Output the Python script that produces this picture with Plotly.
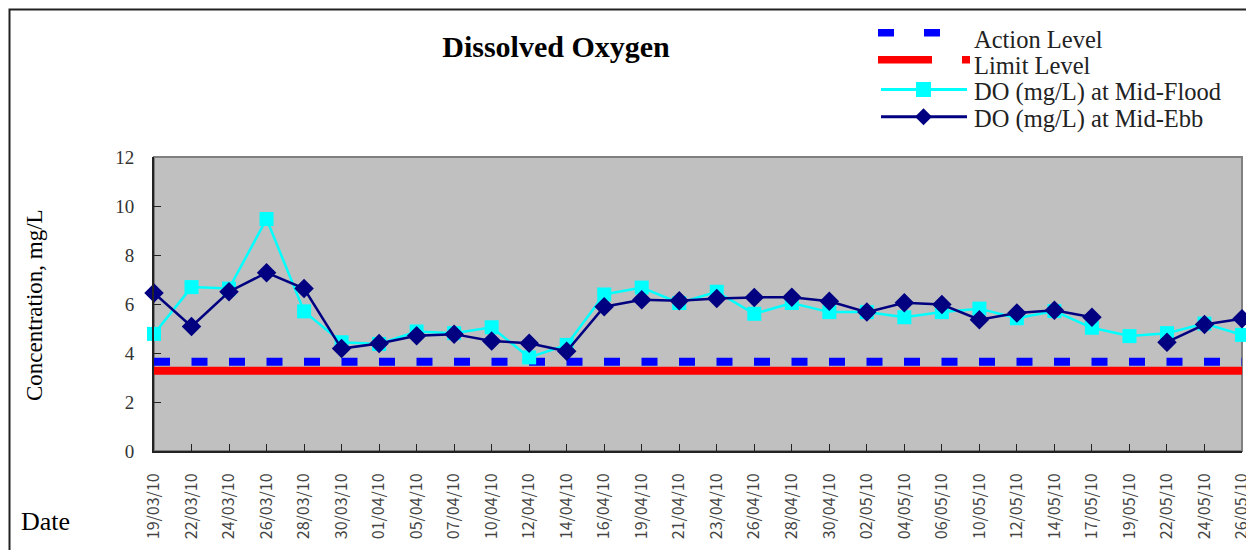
import plotly.graph_objects as go

dates = ["19/03/10", "22/03/10", "24/03/10", "26/03/10", "28/03/10", "30/03/10",
         "01/04/10", "05/04/10", "07/04/10", "10/04/10", "12/04/10", "14/04/10",
         "16/04/10", "19/04/10", "21/04/10", "23/04/10", "26/04/10", "28/04/10",
         "30/04/10", "02/05/10", "04/05/10", "06/05/10", "10/05/10", "12/05/10",
         "14/05/10", "17/05/10", "19/05/10", "22/05/10", "24/05/10", "26/05/10"]

do_flood = [4.78, 6.69, 6.63, 9.47, 5.70, 4.44, 4.37, 4.88, 4.81, 5.05, 3.82, 4.33,
            6.39, 6.67, 6.04, 6.50, 5.60, 6.04, 5.67, 5.67, 5.46, 5.67, 5.81, 5.42,
            5.71, 5.03, 4.69, 4.81, 5.20, 4.74]

do_ebb = [6.45, 5.08, 6.50, 7.28, 6.63, 4.18, 4.39, 4.70, 4.77, 4.49, 4.40, 4.07,
          5.89, 6.17, 6.13, 6.22, 6.27, 6.28, 6.11, 5.67, 6.05, 5.98, 5.36, 5.63,
          5.74, 5.46, None, 4.44, 5.16, 5.40]

action_level = [3.64] * len(dates)
limit_level = [3.28] * len(dates)

y_ticks = [0, 2, 4, 6, 8, 10, 12]

series_names = ["Action Level", "Limit Level", "DO (mg/L) at Mid-Flood", "DO (mg/L) at Mid-Ebb"]

SERIF = "Liberation Serif, Times New Roman, serif"
SANS = "Noto Sans CJK TC, sans-serif"

BLUE, RED, CYAN, NAVY = "#0000FF", "#FF0000", "#00FFFF", "#000080"

fig = go.Figure()
fig.add_trace(go.Scatter(x=dates, y=action_level, mode="lines", name=series_names[0],
                         showlegend=False,
                         line=dict(color=BLUE, width=8, dash="16px,21.5px")))
fig.add_trace(go.Scatter(x=dates, y=limit_level, mode="lines", name=series_names[1],
                         showlegend=False, line=dict(color=RED, width=8)))
fig.add_trace(go.Scatter(x=dates, y=do_flood, mode="lines+markers",
                         name=series_names[2], cliponaxis=False, showlegend=False,
                         line=dict(color=CYAN, width=2.5),
                         marker=dict(symbol="square", size=14, color=CYAN)))
fig.add_trace(go.Scatter(x=dates, y=do_ebb, mode="lines+markers",
                         name=series_names[3], cliponaxis=False, connectgaps=False,
                         showlegend=False,
                         line=dict(color=NAVY, width=2.5),
                         marker=dict(symbol="diamond", size=15, color=NAVY)))

# page is offset by the default 8px body margin
OFF = 8
W, H = 1254 - OFF, 550 - OFF
PL, PR, PT, PB = 154, 1242, 157, 451  # plot area in page pixels
pw, ph = PR - PL, PB - PT


def px_x(p):
    return (p - PL) / pw


def px_y(p):
    return (PB - p) / ph


shapes = [
    dict(type="rect", xref="paper", yref="paper", x0=0, x1=1, y0=0, y1=1,
         line=dict(color="#808080", width=2), layer="below"),
    dict(type="rect", xref="paper", yref="paper", x0=px_x(9.5), x1=px_x(1300),
         y0=px_y(600), y1=px_y(9.5), line=dict(color="#222", width=2)),
]


def prect(x0, x1, y0, y1, color):
    return dict(type="rect", xref="paper", yref="paper", x0=px_x(x0), x1=px_x(x1),
                y0=px_y(y1), y1=px_y(y0), fillcolor=color, line=dict(width=0))


def pline(x0, x1, y, color, w):
    return dict(type="line", xref="paper", yref="paper", x0=px_x(x0), x1=px_x(x1),
                y0=px_y(y), y1=px_y(y), line=dict(color=color, width=w))


# legend swatches
shapes += [
    prect(878, 894, 29, 36.5, BLUE), prect(924, 940, 29, 36.5, BLUE),
    prect(878, 932, 56, 63.5, RED), prect(962, 970, 56, 63.5, RED),
    pline(881, 967, 89.5, CYAN, 3), prect(916, 931, 82, 97, CYAN),
    pline(881, 967, 116.7, NAVY, 3),
]
cx, cy, r = 923.5, 116.7, 8.5
shapes.append(dict(type="path", xref="paper", yref="paper", fillcolor=NAVY,
                   line=dict(width=0),
                   path=f"M {px_x(cx - r)},{px_y(cy)} L {px_x(cx)},{px_y(cy - r)} "
                        f"L {px_x(cx + r)},{px_y(cy)} L {px_x(cx)},{px_y(cy + r)} Z"))

legend_rows = [39, 65, 92, 119]
annotations = [
    dict(text=name, xref="paper", yref="paper", x=px_x(972), y=px_y(yy),
         xanchor="left", yanchor="middle", showarrow=False,
         font=dict(family=SERIF, size=24.5, color="#222"))
    for name, yy in zip(series_names, legend_rows)
]
annotations += [
    dict(text="Date", xref="paper", yref="paper", x=px_x(19), y=px_y(521),
         xanchor="left", yanchor="middle", showarrow=False,
         font=dict(family=SERIF, size=26, color="black")),
    dict(text="Concentration, mg/L", xref="paper", yref="paper", x=px_x(34), y=px_y(305),
         xanchor="center", yanchor="middle", showarrow=False, textangle=-90,
         font=dict(family=SERIF, size=23, color="black")),
]

fig.update_layout(
    width=W, height=H,
    margin=dict(l=PL - OFF, r=W + OFF - PR, t=PT - OFF, b=H + OFF - PB, autoexpand=False),
    paper_bgcolor="white",
    plot_bgcolor="#C0C0C0",
    title=dict(text="<b>Dissolved Oxygen</b>", x=(556 - OFF) / W, xanchor="center",
               y=1 - (46 - OFF) / H, yanchor="middle",
               font=dict(family=SERIF, size=30, color="black")),
    showlegend=False,
    xaxis=dict(type="category", range=[0, len(dates) - 1], showgrid=False,
               showline=True, linecolor="#222", linewidth=2,
               ticks="inside", ticklen=7, tickcolor="#222", tickwidth=1,
               tickangle=-90, ticklabelstandoff=14,
               tickfont=dict(family=SANS, size=16, color="#444"),
               zeroline=False),
    yaxis=dict(range=[0, 12], tickvals=y_ticks, showgrid=False, zeroline=False,
               showline=True, linecolor="#222", linewidth=2,
               ticks="inside", ticklen=7, tickcolor="#222", tickwidth=1,
               ticklabelstandoff=14,
               tickfont=dict(family=SERIF, size=19, color="#333")),
    shapes=shapes,
    annotations=annotations,
)

fig.write_html("out.html")
